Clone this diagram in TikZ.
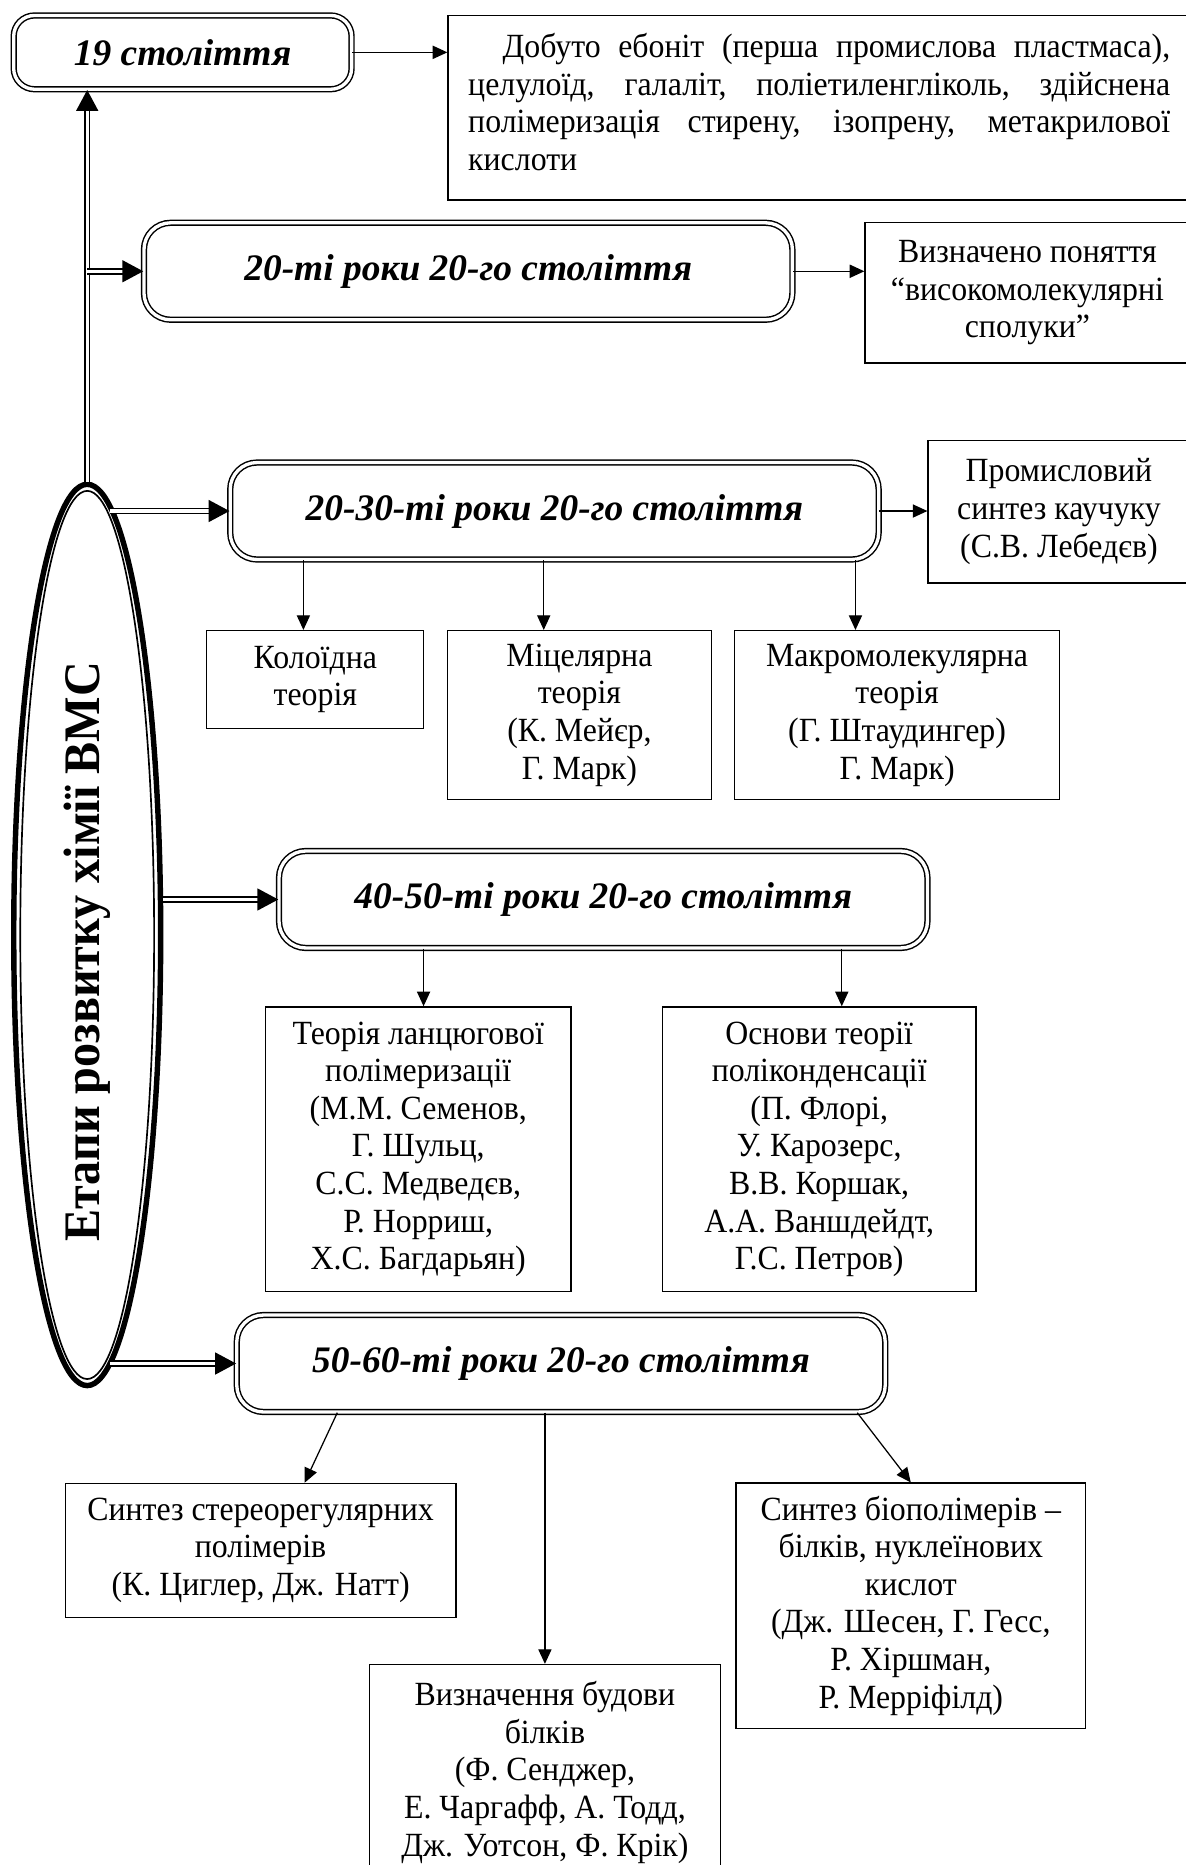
\documentclass[tikz,border=0pt]{standalone}
\usepackage{fontspec}
\usepackage{graphicx}
\setmainfont[FakeStretch=0.94]{Liberation Serif}
\newfontfamily\stagefont{Liberation Serif}
\usetikzlibrary{shapes.geometric,arrows.meta}

\begin{document}
\begin{tikzpicture}[font=\fontsize{16.2}{18}\selectfont,
  st/.style={draw, double, line width=0.7pt, double distance=1.6pt,
             rounded corners=0.45cm, minimum width=10.9cm, minimum height=1.63cm,
             inner sep=2pt, font=\stagefont\fontsize{17.9}{20}\selectfont\bfseries\itshape},
  bx/.style={draw, line width=0.6pt, inner sep=2pt, align=center},
  el/.style={ellipse, draw, line width=2.6pt, inner sep=0pt,
             font=\fontsize{24.5}{28}\selectfont\bfseries},
  ar/.style={line width=0.6pt, -{Triangle[length=7pt, width=6.3pt]}},
  dar/.style={double, line width=0.8pt, double distance=1.5pt,
              -{Triangle[length=10pt, width=10.5pt]}}
]
\useasboundingbox (0,0) rectangle (19.92,-31.35);
\node[el, minimum width=2.47cm, minimum height=15.15cm] (etapy) at (1.466,-15.716)
  {\rotatebox{90}{Етапи розвитку хімії ВМС\hspace*{0.56cm}}};
\draw[line width=0.8pt] (etapy.center) ellipse [x radius=1.125cm, y radius=7.465cm];
\node[st, minimum width=5.68cm, minimum height=1.24cm, rounded corners=0.35cm] (s19) at (3.07,-0.88) {19 століття};
\node[st] (s20)   at (7.87,-4.56)  {20-ті роки 20-го століття};
\node[st] (s2030) at (9.32,-8.59)  {20-30-ті роки 20-го століття};
\node[st] (s4050) at (10.14,-15.12) {40-50-ті роки 20-го століття};
\node[st] (s5060) at (9.43,-22.92) {50-60-ті роки 20-го століття};
\node[bx, anchor=north west, text width=11.8cm, inner xsep=0.34cm, minimum height=3.1cm,
      align=justify] (ebonit) at (7.52,-0.252)
  {\hspace*{0.58cm}Добуто ебоніт (перша промислова пластмаса),\linebreak
   целулоїд, галаліт, поліетиленгліколь, здійснена\linebreak
   полімеризація стирену, ізопрену, метакрилової\linebreak кислоти\par
   \hrule height 0.2cm width 0pt};
\node[bx, minimum width=5.46cm, minimum height=2.36cm] (vyzn) at (17.27,-4.92)
  {Визначено поняття\\“високомолекулярні\\сполуки”};
\node[bx, minimum width=4.4cm, minimum height=2.4cm] (kauch) at (17.8,-8.6)
  {Промисловий\\синтез каучуку\\(С.В. Лебедєв)};
\node[bx, minimum width=3.65cm, minimum height=1.64cm] (koloid) at (5.30,-11.42)
  {Колоїдна\\теорія};
\node[bx, minimum width=4.43cm, minimum height=2.84cm] (micel) at (9.74,-12.02)
  {Міцелярна\\теорія\\(К. Мейєр,\\Г. Марк)};
\node[bx, minimum width=5.46cm, minimum height=2.84cm] (makro) at (15.08,-12.02)
  {Макромолекулярна\\теорія\\(Г. Штаудингер)\\Г. Марк)};
\node[bx, minimum width=5.14cm, minimum height=4.79cm] (lanc) at (7.03,-19.32)
  {Теорія ланцюгової\\полімеризації\\(М.М. Семенов,\\Г. Шульц,\\С.С. Медведєв,\\Р. Норриш,\\Х.С. Багдарьян)};
\node[bx, minimum width=5.27cm, minimum height=4.79cm] (polik) at (13.77,-19.32)
  {Основи теорії\\поліконденсації\\(П. Флорі,\\У. Карозерс,\\В.В. Коршак,\\А.А. Ваншдейдт,\\Г.С. Петров)};
\node[bx, minimum width=6.57cm, minimum height=2.25cm] (stereo) at (4.38,-26.06)
  {Синтез стереорегулярних\\полімерів\\(К. Циглер, Дж. Натт)};
\node[bx, minimum width=5.91cm, minimum height=3.62cm] (bilky) at (9.16,-29.79)
  {Визначення будови\\білків\\(Ф. Сенджер,\\Е. Чаргафф, А. Тодд,\\Дж. Уотсон, Ф. Крік)};
\node[bx, minimum width=5.88cm, minimum height=4.12cm] (biopol) at (15.31,-26.99)
  {Синтез біополімерів –\\білків, нуклеїнових\\кислот\\(Дж. Шесен, Г. Гесс,\\Р. Хіршман,\\Р. Мерріфілд)};
\draw[dar] (etapy.north) -- (etapy.north |- s19.south);
\draw[dar] (etapy.north |- s20.west) -- (s20.west);
\draw[dar] (etapy.87 |- s2030.west) -- (s2030.west);
\draw[dar] (etapy.east |- s4050.west) -- (s4050.west);
\draw[dar] (etapy.-87 |- s5060.west) -- (s5060.west);
\draw[ar] (s19.east) -- (s19.east -| ebonit.west);
\draw[ar] (s20.east) -- (s20.east -| vyzn.west);
\draw[ar] (s2030.east) -- (s2030.east -| kauch.west);
\draw[ar] ([xshift=-0.2cm]koloid.north |- s2030.south) -- ([xshift=-0.2cm]koloid.north);
\draw[ar] ([xshift=-0.6cm]micel.north |- s2030.south) -- ([xshift=-0.6cm]micel.north);
\draw[ar] ([xshift=-0.7cm]makro.north |- s2030.south) -- ([xshift=-0.7cm]makro.north);
\draw[ar] ([xshift=0.09cm]lanc.north |- s4050.south) -- ([xshift=0.09cm]lanc.north);
\draw[ar] ([xshift=0.38cm]polik.north |- s4050.south) -- ([xshift=0.38cm]polik.north);
\draw[ar] ([xshift=-3.76cm]s5060.south) -- ([xshift=0.74cm]stereo.north);
\draw[ar] (bilky.north |- s5060.south) -- (bilky.north);
\draw[ar] ([xshift=4.98cm]s5060.south) -- (biopol.north);
\end{tikzpicture}
\end{document}
